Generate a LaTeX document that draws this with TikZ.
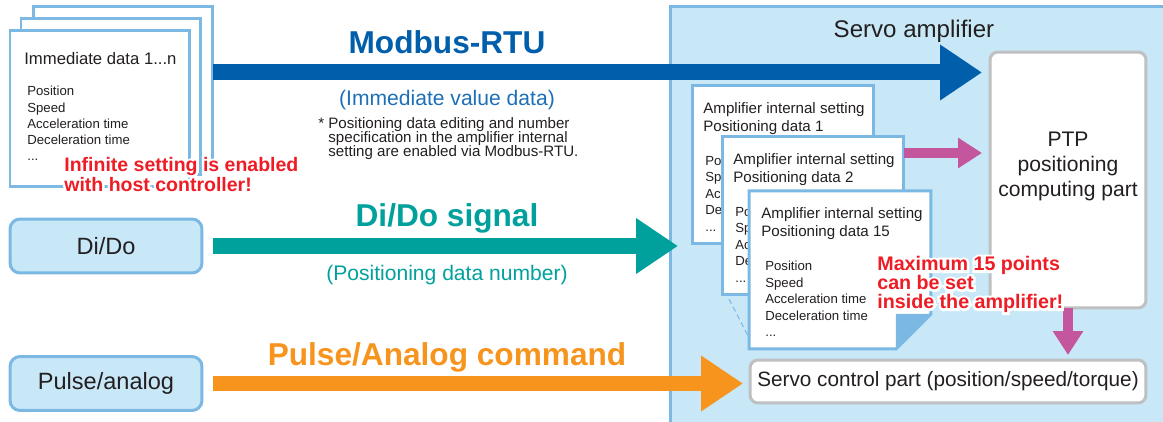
\documentclass[tikz,border=0pt]{standalone}
\usepackage{fontspec}
\setmainfont{Liberation Sans}
\newfontfamily\haloface[FakeBold=25]{Liberation Sans Bold}
\usetikzlibrary{arrows.meta}
\usetikzlibrary{calc}

\definecolor{ampfill}{HTML}{C8E8F8}
\definecolor{lineblue}{HTML}{7CB8E4}
\definecolor{boxgray}{HTML}{BEC0C2}
\definecolor{modblue}{HTML}{005EAB}
\definecolor{subblue}{HTML}{1D6FB8}
\definecolor{dioteal}{HTML}{00A19D}
\definecolor{pulseorange}{HTML}{F7941E}
\definecolor{ptppink}{HTML}{C4569E}
\definecolor{warnred}{HTML}{EE1C25}
\definecolor{txtgray}{HTML}{231F20}

% texte rouge avec un halo blanc
\newcommand{\halo}[1]{\rlap{\haloface\color{white}#1}#1}
\newcommand{\tightlines}{\lineskiplimit=-5pt\relax}

\tikzset{
	datacard/.style = {rectangle, draw=lineblue, fill=white, line width=0.06cm,
		inner sep=0pt, outer sep=0pt, anchor=north west,
		minimum width=3.6cm, minimum height=3.12cm},% fiche de donnees
	ampcard/.style = {datacard, minimum width=3.64cm, minimum height=3.16cm},% fiche interne
	iobox/.style = {rectangle, rounded corners=0.2cm, draw=lineblue, fill=ampfill,
		line width=0.06cm, outer sep=0pt, text=txtgray, minimum width=3.84cm,
		minimum height=1.08cm, font=\fontsize{13.4}{16}\selectfont},% entree hote
	partbox/.style = {rectangle, rounded corners=0.16cm, draw=boxgray, fill=white,
		line width=0.06cm, outer sep=0pt, text=txtgray},% bloc de l'ampli
	cardtitle/.style = {anchor=north west, inner sep=0pt, align=left, text=txtgray,
		font=\fontsize{8.6}{10.6}\selectfont},
	cardlist/.style = {anchor=north west, inner sep=0pt, align=left, text=txtgray,
		font=\fontsize{7.5}{9.4}\selectfont},
	bigarrow/.style = {line width=0.32cm, -{Triangle[length=0.84cm, width=1.06cm]}},
	pinkarrow/.style = {line width=0.2cm, ptppink, -{Triangle[length=0.48cm, width=0.58cm]}},
	biglabel/.style = {anchor=base, inner sep=0pt, font=\bfseries\fontsize{18}{20}\selectfont},
	sublabel/.style = {anchor=base, inner sep=0pt, font=\fontsize{12}{14}\selectfont},
	warning/.style = {anchor=north west, inner sep=0pt, align=left, text=warnred,
		font=\bfseries\fontsize{11.1}{11.3}\selectfont\tightlines}
}

\begin{document}
\begin{tikzpicture}[x=0.02cm, y=-0.02cm]
	\useasboundingbox (0,0) rectangle (1163,422);
	\clip (0,0) rectangle (1163,422);
	% servo amplifier
	\node[rectangle, draw=lineblue, fill=ampfill, line width=0.06cm, outer sep=0pt,
		anchor=north west, minimum width=10.2cm, minimum height=8.66cm] (amp) at (670,7) {};
	\node[anchor=base, inner sep=0pt, text=txtgray, font=\fontsize{13.7}{16}\selectfont]
		(amptitle) at (914,38) {Servo amplifier};
	\node[partbox, minimum width=3.12cm, minimum height=5.12cm] (ptp) at (1068,180) {};
	\node[anchor=north, inner sep=0pt, align=center, text=txtgray,
		font=\fontsize{12}{14.2}\selectfont] (ptptext) at ([yshift=-1.6cm]ptp.north)
		{PTP\\positioning\\computing part};
	\node[partbox, minimum width=7.92cm, minimum height=0.86cm,
		font=\fontsize{11.8}{14}\selectfont] (ctrl) at (948,381.5)
		{Servo control part (position/speed/torque)};
	% cote hote
	\node[datacard] (immback) at (33,7) {};
	\node[datacard] (immmid) at (21,19) {};
	\node[datacard] (immfront) at (10,31) {};
	\node[cardtitle, font=\fontsize{9.5}{11}\selectfont] (immtitle)
		at ([shift={(14,21)}]immfront.north west) {Immediate data 1...n};
	\node[cardlist, font=\fontsize{7.5}{9.2}\selectfont] (immlist)
		at ([shift={(17,55)}]immfront.north west)
		{Position\\Speed\\Acceleration time\\Deceleration time\\...};
	\node[warning] (infinite) at (64,157)
		{\halo{Infinite setting is enabled}\\\halo{with host controller!}};
	\node[iobox] (dido) at (106,246) {Di/Do};
	\node[iobox] (pulse) at (106,383.5) {Pulse/analog};
	% liaisons
	\draw[bigarrow, modblue, shorten >=0.16cm] ([yshift=0.25cm]immback.east)
		-- ([yshift=0.25cm]immback.east -| ptp.west);
	\draw[bigarrow, dioteal, shorten <=0.22cm, shorten >=-0.16cm] (dido.east)
		-- (dido.east -| amp.west);
	\draw[bigarrow, pulseorange, shorten <=0.22cm, shorten >=0.14cm] (pulse.east)
		-- (pulse.east -| ctrl.west);
	% fiches internes
	\node[ampcard] (card1) at (692,86) {};
	\node[cardtitle] (card1title) at ([shift={(11,16)}]card1.north west)
		{Amplifier internal setting\\Positioning data 1};
	\node[cardlist] (card1list) at ([shift={(13,70)}]card1.north west)
		{Po\\Sp\\Ac\\De\\...};
	\node[ampcard] (card2) at (722,137) {};
	\node[cardtitle] (card2title) at ([shift={(11,16)}]card2.north west)
		{Amplifier internal setting\\Positioning data 2};
	\node[cardlist] (card2list) at ([shift={(13,70)}]card2.north west)
		{Po\\Sp\\Ac\\De\\...};
	\node[ampcard, draw=none, fill=none] (card3) at (749,191) {};
	\draw[lineblue, line width=0.6pt, dash pattern=on 3pt off 2pt]
		($(card2.south west)+(7,4)$) -- ($(card3.south west)+(0,-11)$);
	\filldraw[draw=lineblue, fill=white, line width=0.06cm] (card3.north west)
		-- (card3.north east) -- ($(card3.south east)+(0,-35)$)
		-- ($(card3.south east)+(-35,0)$) -- (card3.south west) -- cycle;
	\fill[lineblue] ($(card3.south east)+(-35,-35)$) -- ($(card3.south east)+(0,-35)$)
		-- ($(card3.south east)+(-35,0)$) -- cycle;
	\node[cardtitle] (card3title) at ([shift={(12,16)}]card3.north west)
		{Amplifier internal setting\\Positioning data 15};
	\node[cardlist] (card3list) at ([shift={(16,70)}]card3.north west)
		{Position\\Speed\\Acceleration time\\Deceleration time\\...};
	\draw[pinkarrow, shorten >=0.16cm] ([yshift=-0.32cm]card2.north east)
		-- ([yshift=-0.32cm]card2.north east -| ptp.west);
	\draw[pinkarrow, shorten >=0.1cm] (ptp.south) -- (ptp.south |- ctrl.north);
	\node[warning, font=\bfseries\fontsize{11.2}{10.8}\selectfont\tightlines] (maxpoints)
		at (877,256) {\halo{Maximum 15 points}\\\halo{can be set}\\\halo{inside the amplifier!}};
	% textes des liaisons
	\node[biglabel, text=modblue] (modbuslabel) at (447,54) {Modbus-RTU};
	\node[sublabel, text=subblue] (modbussub) at (447,106) {(Immediate value data)};
	\node[anchor=north west, inner sep=0pt, align=left, text=txtgray,
		font=\fontsize{8.6}{7.9}\selectfont\tightlines] (modbusnote) at (318,117)
		{* Positioning data editing and number\\\phantom{* }specification in the amplifier internal\\\phantom{* }setting are enabled via Modbus-RTU.};
	\node[biglabel, text=dioteal] (didolabel) at (447,227) {Di/Do signal};
	\node[sublabel, text=dioteal] (didosub) at (447,280) {(Positioning data number)};
	\node[biglabel, text=pulseorange] (pulselabel) at (447,365) {Pulse/Analog command};
\end{tikzpicture}
\end{document}
